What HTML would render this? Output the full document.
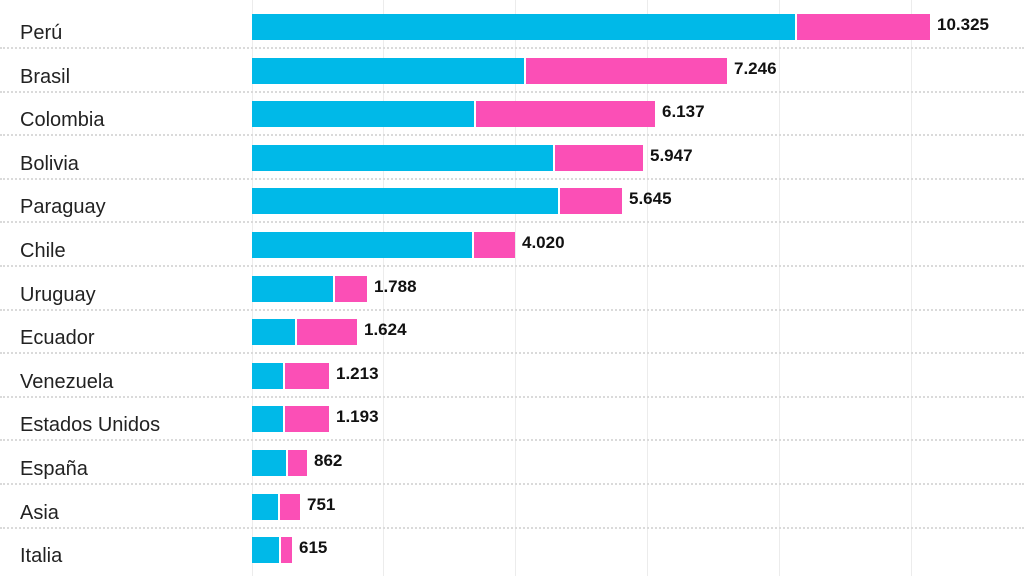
<!DOCTYPE html><html><head><style>
body{margin:0;width:1024px;height:576px;background:#fff;position:relative;overflow:hidden;font-family:"Liberation Sans",sans-serif}
.g{position:absolute;top:0;height:576px;width:1px;background:#ececec}
.d{position:absolute;left:0;width:1024px;height:0;border-top:2px dotted #dadada}
.l{position:absolute;left:20px;font-size:20px;color:#222}
.b{position:absolute;height:26px}
.c{background:#00b9e8}.p{background:#fb4fb6}
.v{position:absolute;font-size:17px;font-weight:bold;color:#111}
</style></head><body>
<div class="g" style="left:252px"></div><div class="g" style="left:383px"></div><div class="g" style="left:515px"></div><div class="g" style="left:647px"></div><div class="g" style="left:779px"></div><div class="g" style="left:911px"></div>
<script>
var r=[["Perú",795,930,"10.325"],["Brasil",524,727,"7.246"],["Colombia",474,655,"6.137"],["Bolivia",553,643,"5.947"],["Paraguay",558,622,"5.645"],["Chile",472,515,"4.020"],["Uruguay",333,367,"1.788"],["Ecuador",295,357,"1.624"],["Venezuela",283,329,"1.213"],["Estados Unidos",283,329,"1.193"],["España",286,307,"862"],["Asia",278,300,"751"],["Italia",279,292,"615"]];
var h="";
r.forEach(function(a,i){var t=14+i*43.6;
h+='<div class="b c" style="left:252px;top:'+t+'px;width:'+(a[1]-252)+'px"></div>';
h+='<div class="b p" style="left:'+(a[1]+2)+'px;top:'+t+'px;width:'+(a[2]-a[1]-2)+'px"></div>';
h+='<div class="v" style="left:'+(a[2]+7)+'px;top:'+(t+1)+'px">'+a[3]+'</div>';
h+='<div class="l" style="top:'+(t+8)+'px">'+a[0]+'</div>';
if(i<12)h+='<div class="d" style="top:'+(47+i*43.6)+'px"></div>';});
document.write(h);
</script>
</body></html>
